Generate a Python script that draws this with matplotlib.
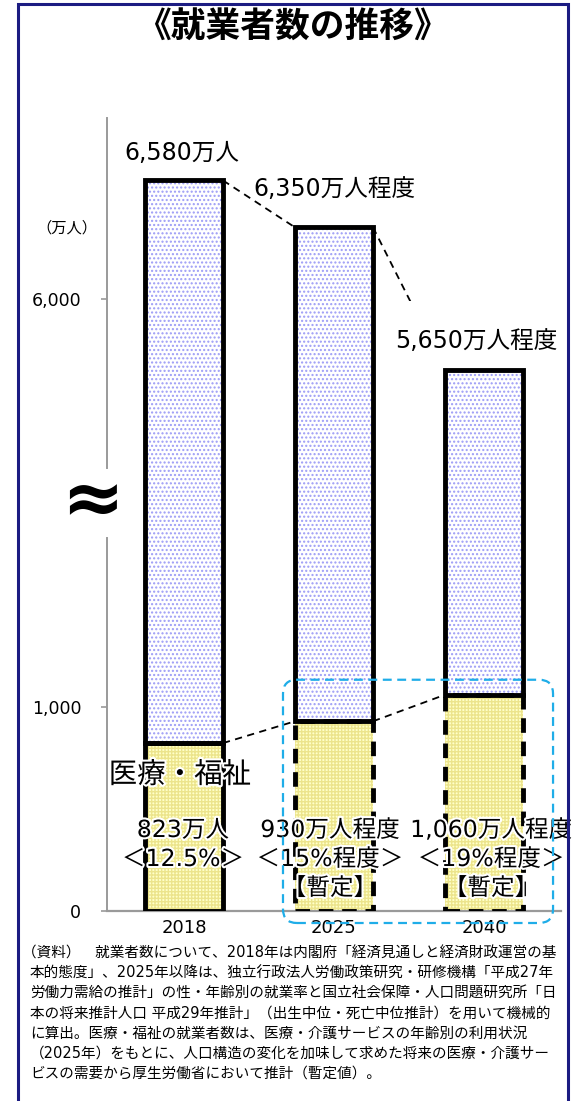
import numpy as np
import matplotlib
matplotlib.use("Agg")
import matplotlib.pyplot as plt
import matplotlib.patheffects as pe
from matplotlib.patches import FancyBboxPatch, Rectangle
from matplotlib.transforms import IdentityTransform

plt.rcParams['font.family'] = ['DejaVu Sans', 'Noto Sans CJK JP']
plt.rcParams['hatch.linewidth'] = 1.0

#----------------------------------------------------
years = ['2018', '2025', '2040']
total = np.array([6580, 6350, 5650])
medical = np.array([823, 930, 1060])
total_labels = ['6,580万人', '6,350万人程度', '5,650万人程度']
medical_labels = [['823万人', '＜12.5%＞'],
                  ['930万人程度', '＜15%程度＞', '【暫定】'],
                  ['1,060万人程度', '＜19%程度＞', '【暫定】']]
yticks = [0, 1000, 6000]
ytick_labels = ['0', '1,000', '6,000']
note = ['（資料）　就業者数について、2018年は内閣府「経済見通しと経済財政運営の基',
        '本的態度」、2025年以降は、独立行政法人労働政策研究・研修機構「平成27年',
        '労働力需給の推計」の性・年齢別の就業率と国立社会保障・人口問題研究所「日',
        '本の将来推計人口 平成29年推計」（出生中位・死亡中位推計）を用いて機械的',
        'に算出。医療・福祉の就業者数は、医療・介護サービスの年齢別の利用状況',
        '（2025年）をもとに、人口構造の変化を加味して求めた将来の医療・介護サー',
        'ビスの需要から厚生労働省において推計（暫定値）。']

W, H = 583, 1101
fig = plt.figure(figsize=(W / 100, H / 100), dpi=100)
ax = fig.add_axes([107 / W, 190 / H, 454 / W, 793 / H])

# broken axis: 2000..5000 squeezed out
brk = [-1e5, 2000, 5000, 1e6]
cut = [-1e5, 2000, 2001, 1e6 - 2999]
def fwd(v):
  return np.interp(v, brk, cut)
def inv(u):
  return np.interp(u, cut, brk)
ax.set_yscale('function', functions=(fwd, inv))

x = np.arange(len(years))
w = 0.52
upper = total - medical

# fills
ax.bar(x, upper, w, bottom=medical, color='white', edgecolor='#9c9cf6',
       hatch='....', lw=0, zorder=2)
ax.bar(x, medical, w, color='#ffffc8', edgecolor='#ece48c',
       hatch='+++++', lw=0, zorder=2)
# outlines
ax.bar(x[:1], medical[:1], w, fill=False, edgecolor='black', lw=3.5, zorder=3)
ax.bar(x[1:], medical[1:], w, fill=False, edgecolor='black', lw=3.5,
       ls=(0, (3, 1.8)), zorder=3)
ax.bar(x, upper, w, bottom=medical, fill=False, edgecolor='black', lw=3.5, zorder=4)

# connecting dashed lines
for i in range(len(x) - 1):
  ax.plot([x[i] + w / 2, x[i + 1] - w / 2], [total[i], total[i + 1]],
          color='black', lw=1.3, ls=(0, (4, 3)), zorder=1)
  ax.plot([x[i] + w / 2, x[i + 1] - w / 2], [medical[i], medical[i + 1]],
          color='black', lw=1.3, ls=(0, (4, 3)), zorder=1)

ax.set_xlim(-0.513, 2.513)
ax.set_ylim(0, 6886)

# axes look
gray = '#9a9a9a'
for s in ['top', 'right']:
  ax.spines[s].set_visible(False)
ax.spines['bottom'].set_color(gray)
ax.spines['bottom'].set_linewidth(1.6)
ax.spines['left'].set_color(gray)
ax.spines['left'].set_linewidth(1.4)
ax.spines['left'].set_bounds(0, 1830)
ax.plot([0, 0], [5170, 6886], transform=ax.get_yaxis_transform(), color=gray,
        lw=1.4, clip_on=False, zorder=0)
ax.set_yticks(yticks)
ax.set_yticklabels(ytick_labels, fontsize=12.5)
ax.tick_params(axis='y', length=4, width=1.2, color=gray, pad=14.5)
ax.set_xticks(x)
ax.set_xticklabels(years, fontsize=13)
ax.tick_params(axis='x', length=0, pad=6)

# broken-axis mark
ax.text(-0.031, 2000, '≈', transform=ax.get_yaxis_transform(), fontsize=54,
        fontweight='bold', ha='center', va='center', family='DejaVu Sans')

# labels
glow = [pe.withStroke(linewidth=3, foreground='white')]
tot_dx = [-2, 0, -8]
tot_dy = [27, 38, 29]
for i in range(len(x)):
  kw = {}
  if i == 2:
    kw['bbox'] = dict(boxstyle='square,pad=1.2', fc='white', ec='none')
  ax.annotate(total_labels[i], (x[i], total[i]), xytext=(tot_dx[i] * 0.72, tot_dy[i] * 0.72),
              textcoords='offset points', ha='center', va='center', fontsize=17,
              zorder=1.5, **kw)

med_dx = [-1, -4, 7]
for i in range(len(x)):
  for j, line in enumerate(medical_labels[i]):
    ax.annotate(line, (x[i], 397), xytext=(med_dx[i] * 0.72, -29 * j * 0.72),
                textcoords='offset points', ha='center', va='center', fontsize=17,
                zorder=6, path_effects=glow)

ax.annotate('医療・福祉', (x[0], 667), xytext=(-4 * 0.72, 0), textcoords='offset points',
            ha='center', va='center', fontsize=20.5, zorder=6, path_effects=glow)

# blue dashed rounded box around the provisional values
p0 = ax.transData.transform((x[1] - w / 2, 0))
p1 = ax.transData.transform((x[2] + w / 2, medical[2]))
bx0, by0 = p0[0] - 12, p0[1] - 12
bx1, by1 = p1[0] + 30, p1[1] + 15
box = FancyBboxPatch((bx0, by0), bx1 - bx0, by1 - by0,
                     boxstyle='round,pad=0,rounding_size=14', transform=IdentityTransform(),
                     fill=False, edgecolor='#1fade8', lw=1.6, ls=(0, (4, 2.5)), zorder=7)
fig.add_artist(box)

# title and unit
fig.text(292 / W, 1 - 28 / H, '《就業者数の推移》', fontsize=25, fontweight='bold',
         ha='center', va='center')
fig.text(67 / W, 1 - 228 / H, '（万人）', fontsize=11, ha='center', va='center',
         family='Noto Sans CJK JP')

# footnote
for k, line in enumerate(note):
  x0 = 22 if k == 0 else 30
  fig.text(x0 / W, 1 - (953 + 20 * k) / H, line, fontsize=10.5, ha='left', va='center')

# frame
frame = Rectangle((18, -20), 550, H - 4 + 20, transform=IdentityTransform(),
                  fill=False, edgecolor='#1c1c82', lw=2.2)
fig.add_artist(frame)

plt.savefig("out.png", dpi=100)
plt.close()
